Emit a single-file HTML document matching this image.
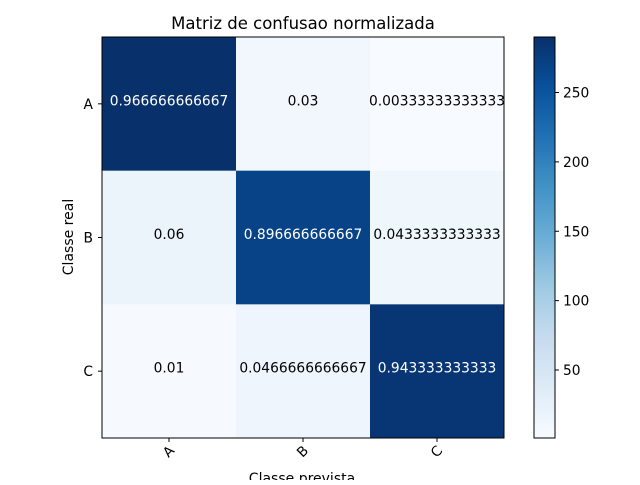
<!DOCTYPE html>
<html><head><meta charset="utf-8"><style>
body{margin:0;background:#fff;}
svg text{font-family:"DejaVu Sans","Liberation Sans",sans-serif;}
</style></head><body>
<svg id="c" width="640" height="480" xmlns="http://www.w3.org/2000/svg"></svg>
<script>
const classes=["A","B","C"];
const counts=[[290,9,1],[18,269,13],[3,14,283]];
const labels=[["0.966666666667","0.03","0.00333333333333"],["0.06","0.896666666667","0.0433333333333"],["0.01","0.0466666666667","0.943333333333"]];
const cbTicks=[50,100,150,200,250];
const NS="http://www.w3.org/2000/svg";
const svg=document.getElementById('c');
function el(t,a,p){const e=document.createElementNS(NS,t);for(const k in a)e.setAttribute(k,a[k]);(p||svg).appendChild(e);return e;}
const stops=["#f7fbff","#deebf7","#c6dbef","#9ecae1","#6baed6","#4292c6","#2171b5","#08519c","#08306b"];
function hx(h){return [1,3,5].map(i=>parseInt(h.substr(i,2),16));}
function cmap(t){t=Math.max(0,Math.min(1,t));const s=t*8,i=Math.min(7,Math.floor(s)),f=s-i;const a=hx(stops[i]),b=hx(stops[i+1]);return "rgb("+a.map((v,k)=>Math.round(v+(b[k]-v)*f)).join(",")+")";}
const flat=counts.flat();const vmin=Math.min(...flat),vmax=Math.max(...flat);
const L=102,T=37,W=402,H=401,n=classes.length,cw=W/n,ch=H/n;
const xC=i=>L+cw*(i+0.5),yC=i=>T+ch*(i+0.5);
const t=el('text',{x:303,y:29,'font-size':16.5,'text-anchor':'middle',fill:'#000'});t.textContent="Matriz de confusao normalizada";


for(let r=0;r<n;r++)for(let c=0;c<n;c++){
 const tt=(counts[r][c]-vmin)/(vmax-vmin);
 const rc=el('rect',{x:L+c*cw,y:T+r*ch,width:cw+0.5,height:ch+0.5,fill:cmap(tt)});
 
 
 const tx=el('text',{x:xC(c),y:yC(r)+1.5,'font-size':13.8,'text-anchor':'middle',fill:tt>0.5?'#fff':'#000'});
 tx.textContent=labels[r][c];
 
 
}
el('rect',{x:L,y:T,width:W,height:H,fill:'none',stroke:'#000','stroke-width':1});
for(let i=0;i<n;i++){
 el('line',{x1:xC(i),x2:xC(i),y1:T+H,y2:T+H+4,stroke:'#000'});
 const xl=el('text',{x:xC(i),y:T+H+18,'font-size':13.8,'text-anchor':'middle',fill:'#000',transform:'rotate(-45 '+(xC(i))+' '+(T+H+14)+')'});xl.textContent=classes[i];
 
 
 el('line',{x1:L-4,x2:L,y1:yC(i),y2:yC(i),stroke:'#000'});
 const yl=el('text',{x:L-9,y:yC(i)+5,'font-size':13.8,'text-anchor':'end',fill:'#000'});yl.textContent=classes[i];
 
 
}
const xa=el('text',{x:302,y:483,'font-size':14,'text-anchor':'middle',fill:'#000'});xa.textContent="Classe prevista";


const ya=el('text',{x:73,y:237,'font-size':14,'text-anchor':'middle',fill:'#000',transform:'rotate(-90 73 237)'});ya.textContent="Classe real";


const CX=534,CW=21,CT=37,CB=438;
const defs=el('defs',{});const g=el('linearGradient',{id:'g',x1:0,y1:1,x2:0,y2:0},defs);
stops.forEach((s,i)=>el('stop',{offset:i/8,'stop-color':s},g));
const cb=el('rect',{x:CX,y:CT,width:CW,height:CB-CT,fill:'url(#g)',stroke:'#000','stroke-width':1});


const cy=v=>CB-(v-vmin)/(vmax-vmin)*(CB-CT);
cbTicks.forEach(v=>{
 el('line',{x1:CX+CW,x2:CX+CW+4,y1:cy(v),y2:cy(v),stroke:'#000'});
 const l=el('text',{x:CX+CW+8,y:cy(v)+5,'font-size':13.8,fill:'#000'});l.textContent=v;
 
 
});
</script>
</body></html>
